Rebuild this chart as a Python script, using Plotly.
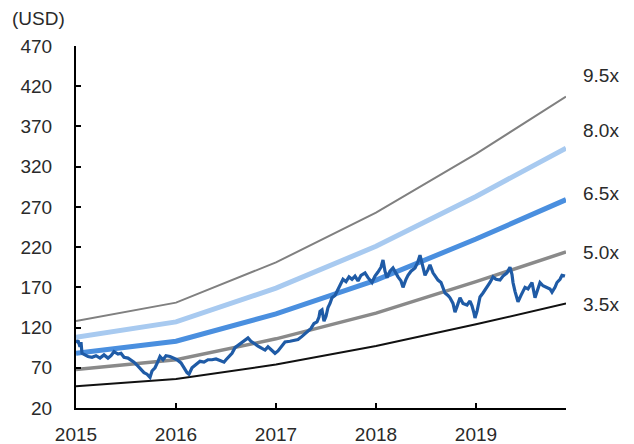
import plotly.graph_objects as go

# Band vertices (decimal year) and PER band values (USD)
band_years = [2015.0, 2016.0, 2017.0, 2018.0, 2019.0, 2019.9]
band_95 = [128, 151, 201, 263, 336, 407]
band_80 = [108, 127, 169, 221, 283, 343]
band_65 = [88, 103, 137, 179, 230, 279]
band_50 = [68, 80, 106, 138, 177, 214]
band_35 = [47, 56, 74, 97, 124, 150]
band_labels = ["9.5x", "8.0x", "6.5x", "5.0x", "3.5x"]
band_label_y = [433, 365, 287, 213, 149]

# Share price (decimal year, USD)
price_years = [
    2015.00, 2015.02, 2015.04, 2015.05, 2015.06, 2015.09, 2015.12, 2015.16, 2015.20, 2015.24,
    2015.28, 2015.32, 2015.35, 2015.38, 2015.42, 2015.45, 2015.48, 2015.52, 2015.56, 2015.58,
    2015.62, 2015.65, 2015.68, 2015.71, 2015.74, 2015.76, 2015.79, 2015.82, 2015.84, 2015.87,
    2015.90, 2015.94, 2015.98, 2016.01, 2016.05, 2016.08, 2016.11, 2016.13, 2016.16, 2016.20,
    2016.24, 2016.28, 2016.32, 2016.36, 2016.40, 2016.44, 2016.48, 2016.50, 2016.52, 2016.56,
    2016.59, 2016.62, 2016.66, 2016.69, 2016.72, 2016.75, 2016.78, 2016.82, 2016.86, 2016.89,
    2016.92, 2016.95, 2016.99, 2017.02, 2017.06, 2017.09, 2017.14, 2017.18, 2017.22, 2017.26,
    2017.29, 2017.32, 2017.35, 2017.38, 2017.41, 2017.43, 2017.44, 2017.46, 2017.48, 2017.50,
    2017.52, 2017.54, 2017.56, 2017.59, 2017.62, 2017.64, 2017.67, 2017.70, 2017.73, 2017.76,
    2017.79, 2017.82, 2017.85, 2017.89, 2017.92, 2017.96, 2017.99, 2018.02, 2018.05, 2018.07,
    2018.09, 2018.11, 2018.14, 2018.17, 2018.20, 2018.22, 2018.25, 2018.27, 2018.30, 2018.32,
    2018.35, 2018.39, 2018.42, 2018.44, 2018.46, 2018.49, 2018.52, 2018.54, 2018.57, 2018.60,
    2018.62, 2018.65, 2018.67, 2018.69, 2018.72, 2018.74, 2018.77, 2018.79, 2018.81, 2018.84,
    2018.87, 2018.91, 2018.94, 2018.96, 2018.98, 2018.99, 2019.01, 2019.04, 2019.07, 2019.11,
    2019.14, 2019.17, 2019.20, 2019.24, 2019.27, 2019.31, 2019.34, 2019.36, 2019.37, 2019.39,
    2019.42, 2019.45, 2019.49, 2019.52, 2019.56, 2019.59, 2019.61, 2019.64, 2019.67, 2019.71,
    2019.74, 2019.76, 2019.79, 2019.81, 2019.84, 2019.86, 2019.89,
]
price = [
    101, 104, 96, 102, 88, 86, 84, 83, 85, 82,
    86, 82, 85, 90, 87, 88, 83, 82, 79, 77,
    72, 68, 64, 62, 58, 66, 70, 78, 84, 80,
    85, 84, 82, 80, 76, 70, 64, 62, 70, 74,
    78, 77, 80, 80, 81, 79, 77, 80, 83, 88,
    95, 98, 101, 104, 107, 103, 100, 97, 94, 92,
    96, 92, 88, 91, 98, 102, 103, 104, 105, 109,
    112, 115, 119, 125, 127, 133, 140, 142, 128, 134,
    145, 150, 157, 160, 168, 173, 180, 177, 183, 180,
    184, 178, 185, 188, 182, 176, 184, 189, 195, 204,
    190, 182, 190, 194, 186, 183, 178, 170, 180, 185,
    190, 194, 202, 210, 200, 185, 192, 198, 188, 182,
    179, 176, 168, 163, 160, 157, 150, 139, 146, 157,
    150, 148, 153, 147, 138, 132, 140, 158, 163, 170,
    176, 183, 180, 179, 184, 188, 195, 186, 176, 165,
    152, 160, 170, 168, 176, 157, 165, 176, 172, 170,
    168, 164, 170, 176, 180, 185, 184,
]

FONT = "Liberation Sans"
TXT = "#2a2a2a"

fig = go.Figure()
band_styles = [
    (band_95, "#808080", 2),
    (band_80, "#A8CAF0", 5),
    (band_65, "#4A8FDF", 5),
    (band_50, "#8A8A8A", 3.5),
    (band_35, "#111111", 2),
]
for vals, color, w in band_styles:
    fig.add_trace(go.Scatter(x=band_years, y=vals, mode="lines",
                             line=dict(color=color, width=w), hoverinfo="skip"))

fig.add_trace(go.Scatter(x=price_years, y=price, mode="lines",
                         line=dict(color="#1F5BA6", width=3.2), hoverinfo="skip"))

for lab, yv in zip(band_labels, band_label_y):
    fig.add_annotation(x=1.03, xref="paper", y=yv, yref="y", text=lab,
                       showarrow=False, xanchor="left", yanchor="middle",
                       font=dict(family=FONT, size=19, color=TXT))

fig.add_annotation(x=-0.135, xref="paper", y=1.0, yref="paper", yshift=28,
                   text="(USD)", showarrow=False, xanchor="left", yanchor="middle",
                   font=dict(family=FONT, size=19, color=TXT))

# page body has an 8px default margin, so shrink the figure by 8px on the left/top
fig.update_layout(
    width=626, height=436,
    margin=dict(l=68, r=68, t=38, b=36),
    paper_bgcolor="white", plot_bgcolor="white",
    showlegend=False,
    font=dict(family=FONT, size=19, color=TXT),
)
fig.update_xaxes(range=[2015, 2019.9], tickvals=[2015, 2016, 2017, 2018, 2019],
                 ticktext=["2015", "2016", "2017", "2018", "2019"],
                 showgrid=False, zeroline=False, showline=True, linecolor="black",
                 linewidth=2, ticks="inside", ticklen=5, tickcolor="black",
                 tickwidth=1.5, ticklabelstandoff=8, automargin=False)
fig.update_yaxes(range=[20, 470], tickvals=list(range(20, 471, 50)),
                 showgrid=False, zeroline=False, showline=True, linecolor="black",
                 linewidth=2, ticks="inside", ticklen=5, tickcolor="black",
                 tickwidth=1.5, ticklabelstandoff=18, automargin=False)

fig.write_html("out.html")
